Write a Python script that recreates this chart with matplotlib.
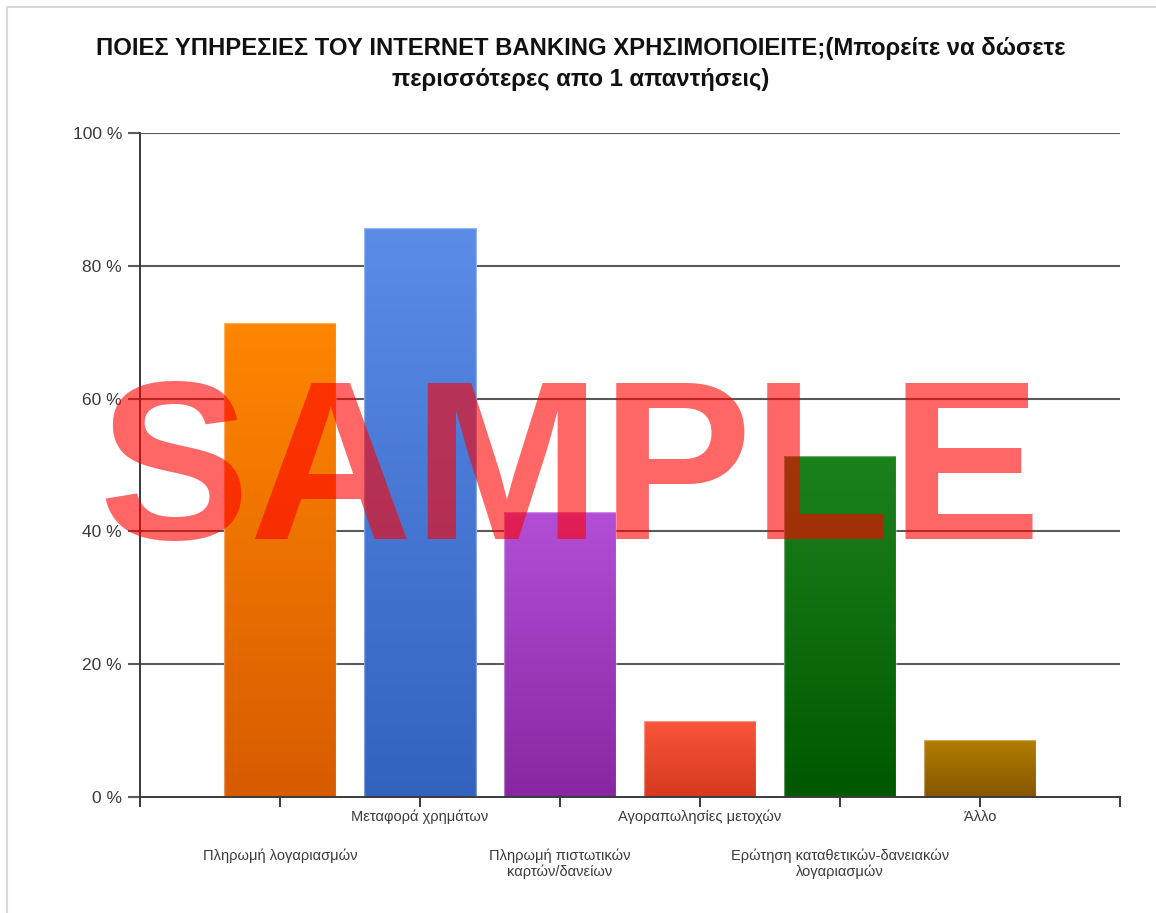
import numpy as np
import matplotlib
matplotlib.use("Agg")
import matplotlib.pyplot as plt
from matplotlib.colors import LinearSegmentedColormap
from matplotlib.lines import Line2D

# %%
title = ("ΠΟΙΕΣ ΥΠΗΡΕΣΙΕΣ ΤΟΥ INTERNET BANKING ΧΡΗΣΙΜΟΠΟΙΕΙΤΕ;(Μπορείτε να δώσετε\n"
         "περισσότερες απο 1 απαντήσεις)")
categories = ["Πληρωμή λογαριασμών", "Μεταφορά χρημάτων",
              "Πληρωμή πιστωτικών\nκαρτών/δανείων", "Αγοραπωλησίες μετοχών",
              "Ερώτηση καταθετικών-δανειακών\nλογαριασμών", "Άλλο"]
percent = [71.4, 85.7, 42.9, 11.4, 51.4, 8.6]
yticks = [0, 20, 40, 60, 80, 100]
ytick_labels = ["0 %", "20 %", "40 %", "60 %", "80 %", "100 %"]

# top / bottom colour of each bar's gradient
top_colors = ["#ff8600", "#5a8ce8", "#b24fd6", "#f9553a", "#1c821c", "#b27e00"]
bottom_colors = ["#d85c00", "#3462bf", "#8826a2", "#d6391d", "#005800", "#875600"]

W, H, DPI = 1156, 913, 100
fig = plt.figure(figsize=(W / DPI, H / DPI), dpi=DPI)
fig.patch.set_facecolor("white")

# outer frame (only top and left edge show)
fig.add_artist(Line2D([7 / W, 7 / W], [0, 1 - 7 / H], transform=fig.transFigure,
                      color="#d9d9d9", lw=1.5))
fig.add_artist(Line2D([7 / W, 1], [1 - 7 / H, 1 - 7 / H], transform=fig.transFigure,
                      color="#d9d9d9", lw=1.5))

ax = fig.add_axes([140 / W, 1 - 797 / H, 980 / W, 664 / H])

txt_font = ["Liberation Sans Narrow", "Liberation Sans", "DejaVu Sans"]

# grid
for y in yticks[1:]:
    ax.axhline(y, color="#5a5a5a", lw=1.5, zorder=1)

x = np.arange(1, len(categories) + 1)
bars = ax.bar(x, percent, width=0.8, color="none", edgecolor="none", zorder=2)
grad = np.linspace(0, 1, 256).reshape(-1, 1)
for b, c_top, c_bot in zip(bars, top_colors, bottom_colors):
    cmap = LinearSegmentedColormap.from_list("g", [c_bot, c_top])
    x0, y0 = b.get_x(), b.get_y()
    im = ax.imshow(grad, cmap=cmap, origin="lower", aspect="auto",
                   extent=[x0, x0 + b.get_width(), y0, y0 + b.get_height()], zorder=3)
    im.set_clip_path(b)
    ax.add_patch(plt.Rectangle((x0, y0), b.get_width(), b.get_height(), fill=False,
                               edgecolor="#ffffff", alpha=0.35, lw=1, zorder=4))
ax.set_xlim(0, 7)
ax.set_ylim(0, 100)

for s in ["top", "right"]:
    ax.spines[s].set_visible(False)
for s in ["left", "bottom"]:
    ax.spines[s].set_color("#3a3a3a")
    ax.spines[s].set_linewidth(1.4)
    ax.spines[s].set_zorder(5)

ax.set_yticks(yticks)
ax.set_yticklabels(ytick_labels, family=txt_font, fontsize=12.5, color="#3a3a3a")
ax.tick_params(axis="y", length=9, width=1.5, color="#5a5a5a", pad=4)
ax.set_xticks(np.arange(0, 8))
ax.set_xticklabels([])
ax.tick_params(axis="x", length=7, width=1.4, color="#3a3a3a")

# category labels alternate between two rows
for i, (xi, lab) in enumerate(zip(x, categories)):
    off = -37 if i % 2 == 0 else -9
    ax.annotate(lab, xy=(xi, 0), xycoords=("data", "axes fraction"),
                xytext=(0, off), textcoords="offset points", ha="center", va="top",
                family=txt_font, fontsize=10.5, color="#3a3a3a", linespacing=1.1)

fig.text(581 / W, 1 - 64 / H, title, ha="center", va="center", family=txt_font,
         fontsize=17.2, fontweight="bold", color="#111111", linespacing=1.48)

# watermark
fig.text(570 / W, 1 - 539 / H, "SAMPLE", ha="center", va="baseline",
         family=["Liberation Sans", "DejaVu Sans"], fontweight="bold",
         fontsize=163, color="red", alpha=0.6, zorder=10)

fig.savefig("out.png", dpi=DPI, facecolor="white")
